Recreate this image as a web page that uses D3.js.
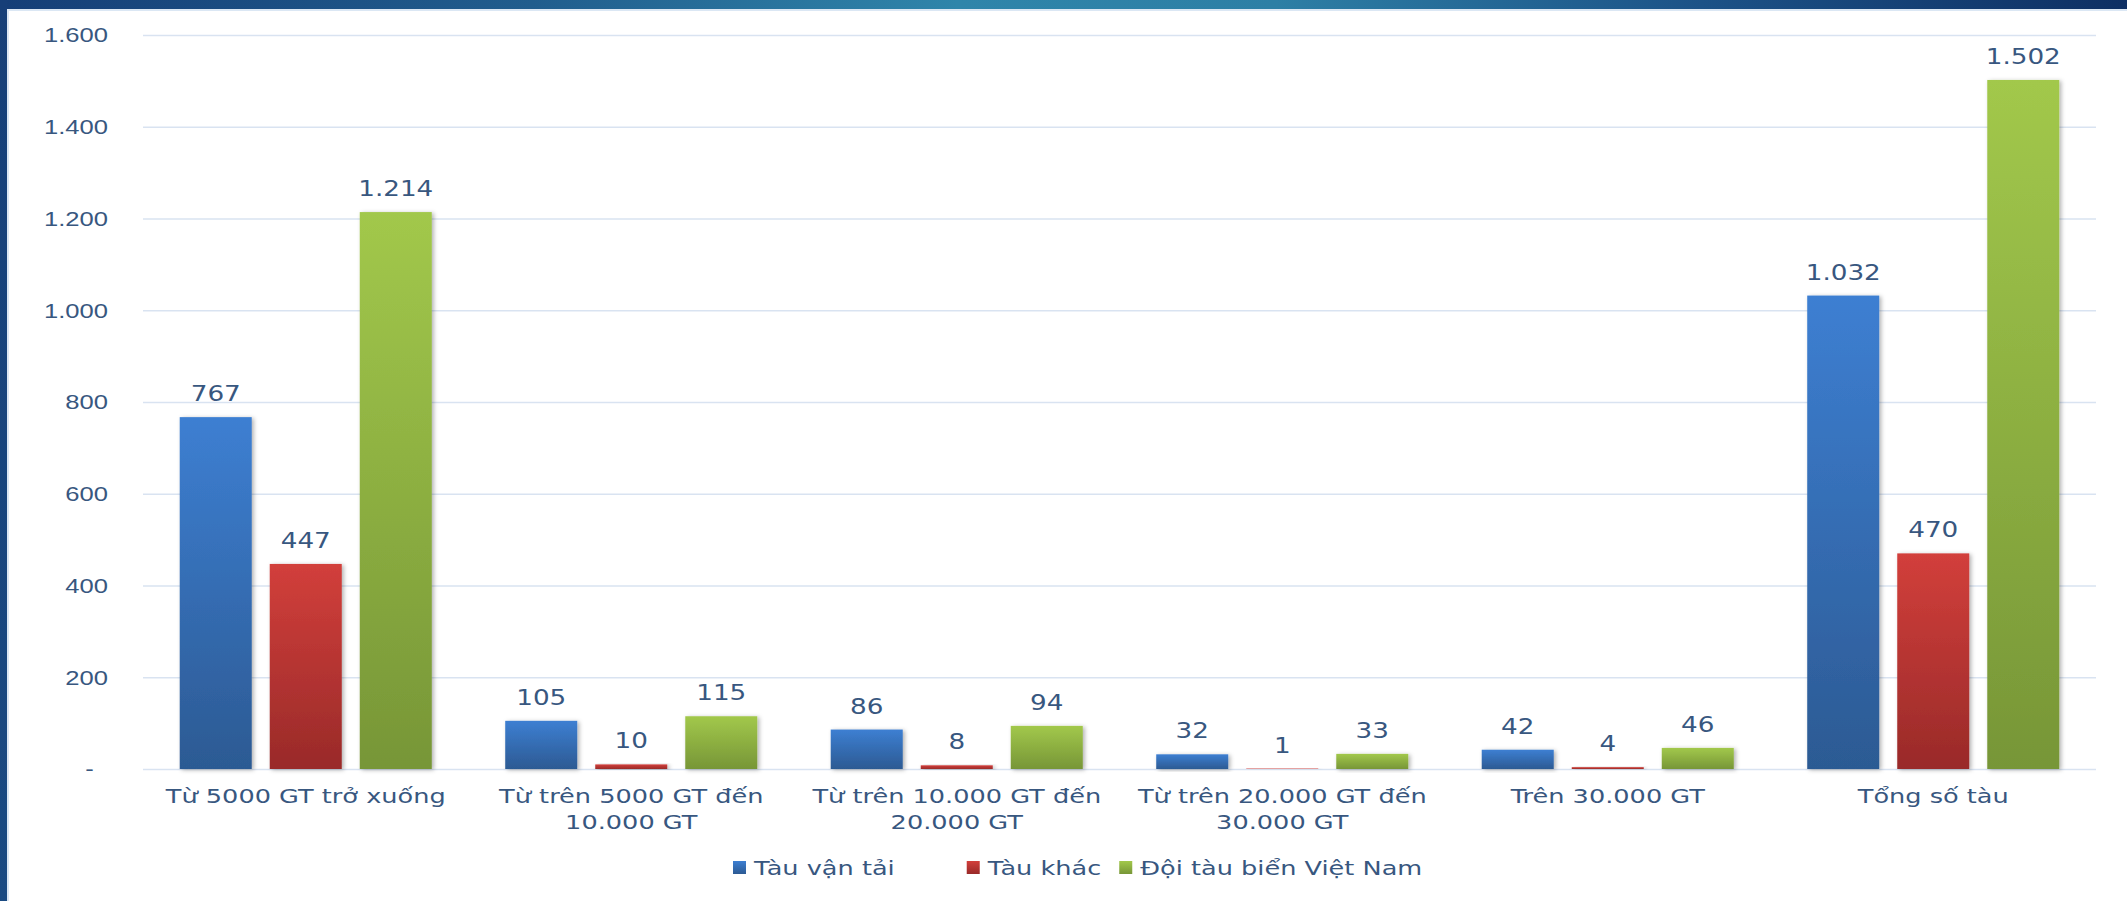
<!DOCTYPE html>
<html>
<head>
<meta charset="utf-8">
<script src="https://cdn.jsdelivr.net/npm/d3@7"></script>
<style>
  html, body { margin: 0; padding: 0; background: #fff; overflow: hidden; }
  svg { display: block; font-family: "DejaVu Sans", sans-serif; }
</style>
</head>
<body>
<div id="chart"></div>
<script>
// chart data
const categories = ["Từ 5000 GT trở xuống", "Từ trên 5000 GT đến 10.000 GT", "Từ trên 10.000 GT đến 20.000 GT",
    "Từ trên 20.000 GT đến 30.000 GT", "Trên 30.000 GT", "Tổng số tàu"];
const seriesNames = ["Tàu vận tải", "Tàu khác", "Đội tàu biển Việt Nam"];
const tauVanTai = [767, 105, 86, 32, 42, 1032];
const tauKhac = [447, 10, 8, 1, 4, 470];
const doiTauBien = [1214, 115, 94, 33, 46, 1502];
const yTicks = [0, 200, 400, 600, 800, 1000, 1200, 1400, 1600];

const seriesValues = [tauVanTai, tauKhac, doiTauBien];
// gradient top / bottom for each series
const seriesColors = [
    ["#3d7fd2", "#2c5a93"],
    ["#d23f3b", "#992a29"],
    ["#a2c84b", "#779637"]
];

var width = 2127;
var height = 901;
var margin = { top: 35, right: 31, bottom: 132, left: 143 };
var innerW = width - margin.left - margin.right;
var innerH = height - margin.top - margin.bottom;
var textColor = "#38577f";
var stretch = 1.28; // text in the reference is drawn wide

const vn = d3.formatLocale({ decimal: ",", thousands: ".", grouping: [3], currency: ["", ""] });
const fmt = vn.format(",");

var svg = d3.select("#chart").append("svg")
    .attr("width", width)
    .attr("height", height);

var defs = svg.append("defs");

seriesColors.forEach(function (c, i) {
    var g = defs.append("linearGradient")
        .attr("id", "grad" + i)
        .attr("x1", 0).attr("y1", 0).attr("x2", 0).attr("y2", 1);
    g.append("stop").attr("offset", "0%").attr("stop-color", c[0]);
    g.append("stop").attr("offset", "100%").attr("stop-color", c[1]);
});

var topGrad = defs.append("linearGradient").attr("id", "topbar")
    .attr("x1", 0).attr("y1", 0).attr("x2", 1).attr("y2", 0);
[["0%", "#153e77"], ["25%", "#215d8d"], ["45%", "#2f85aa"], ["60%", "#2d7fa5"], ["80%", "#1c5287"], ["100%", "#0e2f63"]]
    .forEach(s => topGrad.append("stop").attr("offset", s[0]).attr("stop-color", s[1]));

var leftGrad = defs.append("linearGradient").attr("id", "leftbar")
    .attr("x1", 0).attr("y1", 0).attr("x2", 0).attr("y2", 1);
leftGrad.append("stop").attr("offset", "0%").attr("stop-color", "#163f78");
leftGrad.append("stop").attr("offset", "100%").attr("stop-color", "#1a4a82");

var shadow = defs.append("filter").attr("id", "shadow")
    .attr("x", "-20%").attr("y", "-20%").attr("width", "140%").attr("height", "140%");
shadow.append("feDropShadow")
    .attr("dx", 2).attr("dy", 1)
    .attr("stdDeviation", 2.2)
    .attr("flood-color", "#000")
    .attr("flood-opacity", 0.3);

// frame
svg.append("rect").attr("x", 0).attr("y", 0).attr("width", width).attr("height", 9).attr("fill", "url(#topbar)");
svg.append("rect").attr("x", 7).attr("y", 9).attr("width", width).attr("height", 2).attr("fill", "#dbe7f4");
svg.append("rect").attr("x", 0).attr("y", 0).attr("width", 7).attr("height", height).attr("fill", "url(#leftbar)");
svg.append("rect").attr("x", 7).attr("y", 11).attr("width", 2).attr("height", height).attr("fill", "#dbe7f4");

var g = svg.append("g")
    .attr("transform", "translate(" + margin.left + "," + margin.top + ")");

var x0 = d3.scaleBand().domain(categories).range([0, innerW]).padding(0);
var x1 = d3.scaleBand().domain(seriesNames).range([0, x0.bandwidth()])
    .paddingInner(0.2).paddingOuter(0.408);
var y = d3.scaleLinear().domain([0, 1600]).range([innerH, 0]);

// y axis + gridlines
var yAxis = g.append("g")
    .call(d3.axisLeft(y)
        .tickValues(yTicks)
        .tickSize(-innerW)
        .tickPadding(0)
        .tickFormat(d => d === 0 ? "-\u2007" : fmt(d)));
yAxis.select(".domain").remove();
yAxis.selectAll(".tick line")
    .attr("stroke", "#d9e3f1")
    .attr("stroke-width", 1.5);
yAxis.selectAll(".tick text")
    .attr("x", -35 / stretch)
    .attr("dy", null)
    .attr("dominant-baseline", "central")
    .attr("transform", "scale(" + stretch + ",1)")
    .attr("fill", textColor)
    .style("font-size", "20px");

// bars
var rows = categories.map((c, i) => ({
    category: c,
    values: seriesNames.map((s, j) => ({ series: s, idx: j, value: seriesValues[j][i] }))
}));

var groups = g.selectAll(".grp").data(rows).enter().append("g")
    .attr("class", "grp")
    .attr("transform", d => "translate(" + x0(d.category) + ",0)");

groups.selectAll("rect").data(d => d.values).enter().append("rect")
    .attr("x", d => x1(d.series))
    .attr("y", d => y(d.value))
    .attr("width", x1.bandwidth())
    .attr("height", d => innerH - y(d.value))
    .attr("fill", d => "url(#grad" + d.idx + ")")
    .attr("filter", "url(#shadow)");

// value labels
groups.selectAll(".val").data(d => d.values).enter().append("text")
    .attr("class", "val")
    .attr("transform", d => "translate(" + (x1(d.series) + x1.bandwidth() / 2) + "," + (y(d.value) - 16) + ") scale(" + stretch + ",1)")
    .attr("text-anchor", "middle")
    .attr("fill", textColor)
    .style("font-size", "20.5px")
    .text(d => fmt(d.value));

// category labels, wrapped to the band width
var catText = g.selectAll(".cat").data(categories).enter().append("text")
    .attr("class", "cat")
    .attr("transform", d => "translate(" + (x0(d) + x0.bandwidth() / 2) + "," + (innerH + 34) + ") scale(" + stretch + ",1)")
    .attr("text-anchor", "middle")
    .attr("fill", textColor)
    .style("font-size", "20px");

catText.each(function (d) {
    var text = d3.select(this);
    var words = d.split(" ");
    var maxW = (x0.bandwidth() - 12) / stretch;
    var line = [];
    var lineNo = 0;
    var tspan = text.append("tspan").attr("x", 0).attr("y", 0);
    words.forEach(function (w) {
        line.push(w);
        tspan.text(line.join(" "));
        if (tspan.node().getComputedTextLength() > maxW && line.length > 1) {
            line.pop();
            tspan.text(line.join(" "));
            line = [w];
            lineNo++;
            tspan = text.append("tspan").attr("x", 0).attr("y", lineNo * 26).text(w);
        }
    });
});

// legend
var legend = svg.append("g");
var items = legend.selectAll(".leg").data(seriesNames).enter().append("g").attr("class", "leg");
items.append("rect")
    .attr("width", 13).attr("height", 13)
    .attr("y", -7)
    .attr("fill", (d, i) => "url(#grad" + i + ")");
items.append("text")
    .attr("transform", "translate(21,0) scale(" + stretch + ",1)")
    .attr("dominant-baseline", "central")
    .attr("fill", textColor)
    .style("font-size", "20px")
    .text(d => d);

var widths = [];
items.each(function () { widths.push(this.getBBox().width); });
var gaps = [72, 18];
var lx = 733;
items.attr("transform", function (d, i) {
    var t = "translate(" + lx + ",868)";
    lx += widths[i] + (gaps[i] || 0);
    return t;
});
</script>
</body>
</html>
